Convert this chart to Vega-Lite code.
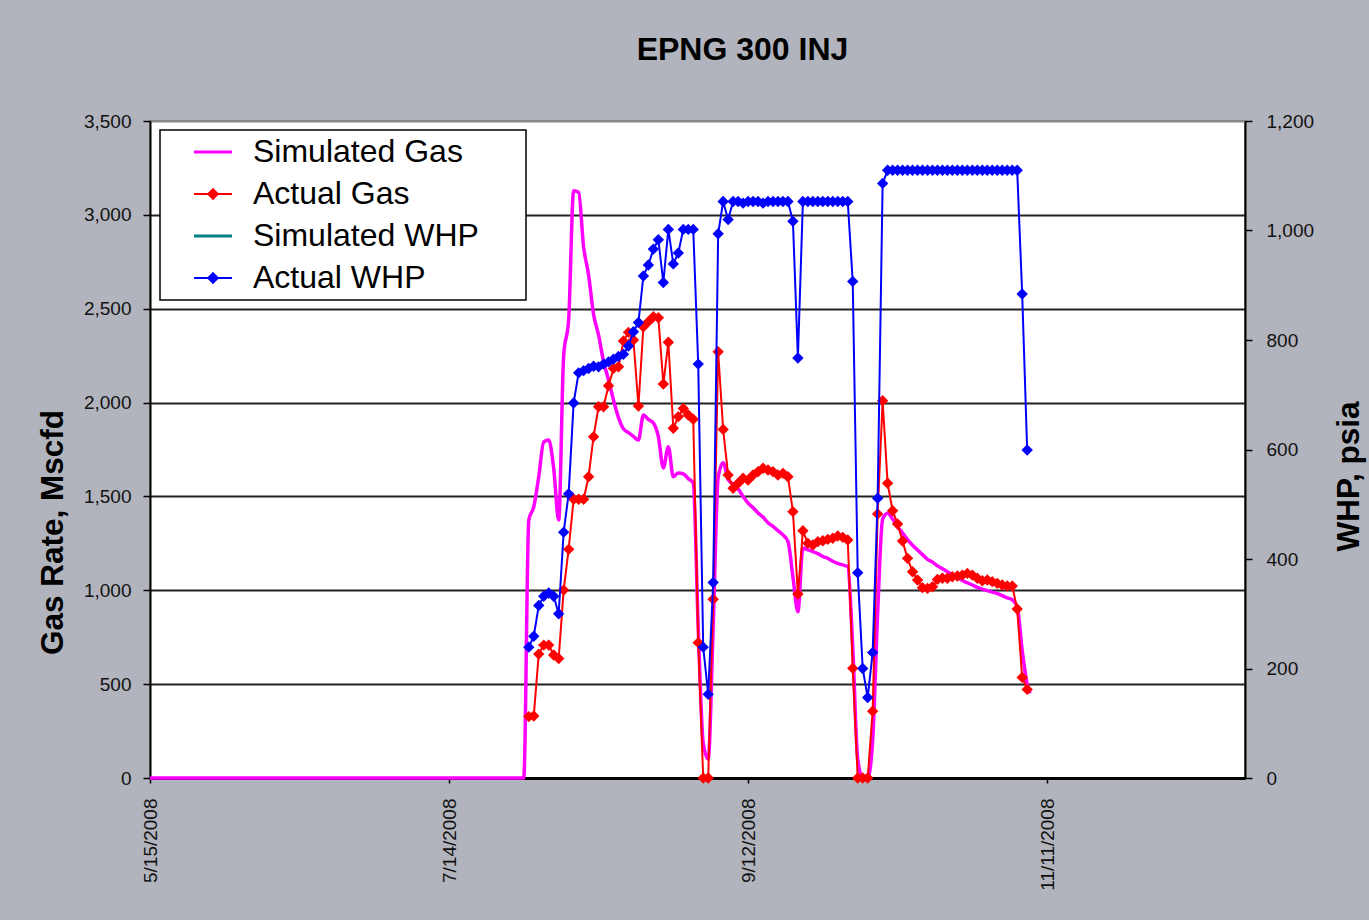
{
"$schema": "https://vega.github.io/schema/vega-lite/v6.json",
"autosize": {"type": "none"},
"padding": {"left": 150, "top": 121, "right": 124, "bottom": 142},
"width": 1095,
"height": 657,
"background": "#b1b4bd",
"title": {"text": "EPNG 300 INJ", "font": "Liberation Sans", "fontSize": 32, "fontWeight": "bold", "color": "#000000", "anchor": "middle", "dx": 45, "offset": 20, "baseline": "alphabetic"},
"config": {
  "font": "Liberation Sans",
  "view": {"stroke": "#888888", "strokeWidth": 2, "fill": "#ffffff"}
},
"data": {"values": [
{"date":"2008-05-15T00:00","series":"Simulated Gas","value":0},
{"date":"2008-07-29T00:00","series":"Simulated Gas","value":0},
{"date":"2008-07-30T00:00","series":"Simulated Gas","value":1374},
{"date":"2008-07-31T00:00","series":"Simulated Gas","value":1445},
{"date":"2008-08-01T00:00","series":"Simulated Gas","value":1605},
{"date":"2008-08-02T00:00","series":"Simulated Gas","value":1790},
{"date":"2008-08-03T00:00","series":"Simulated Gas","value":1800},
{"date":"2008-08-04T00:00","series":"Simulated Gas","value":1650},
{"date":"2008-08-05T00:00","series":"Simulated Gas","value":1374},
{"date":"2008-08-06T00:00","series":"Simulated Gas","value":2250},
{"date":"2008-08-07T00:00","series":"Simulated Gas","value":2440},
{"date":"2008-08-08T00:00","series":"Simulated Gas","value":3128},
{"date":"2008-08-09T00:00","series":"Simulated Gas","value":3120},
{"date":"2008-08-10T00:00","series":"Simulated Gas","value":2830},
{"date":"2008-08-11T00:00","series":"Simulated Gas","value":2680},
{"date":"2008-08-12T00:00","series":"Simulated Gas","value":2470},
{"date":"2008-08-13T00:00","series":"Simulated Gas","value":2360},
{"date":"2008-08-14T00:00","series":"Simulated Gas","value":2220},
{"date":"2008-08-15T00:00","series":"Simulated Gas","value":2120},
{"date":"2008-08-16T00:00","series":"Simulated Gas","value":2013},
{"date":"2008-08-17T00:00","series":"Simulated Gas","value":1920},
{"date":"2008-08-18T00:00","series":"Simulated Gas","value":1860},
{"date":"2008-08-19T00:00","series":"Simulated Gas","value":1840},
{"date":"2008-08-20T00:00","series":"Simulated Gas","value":1820},
{"date":"2008-08-21T00:00","series":"Simulated Gas","value":1800},
{"date":"2008-08-22T00:00","series":"Simulated Gas","value":1934},
{"date":"2008-08-23T00:00","series":"Simulated Gas","value":1910},
{"date":"2008-08-24T00:00","series":"Simulated Gas","value":1891},
{"date":"2008-08-25T00:00","series":"Simulated Gas","value":1818},
{"date":"2008-08-26T00:00","series":"Simulated Gas","value":1651},
{"date":"2008-08-27T00:00","series":"Simulated Gas","value":1765},
{"date":"2008-08-28T00:00","series":"Simulated Gas","value":1605},
{"date":"2008-08-29T00:00","series":"Simulated Gas","value":1625},
{"date":"2008-08-30T00:00","series":"Simulated Gas","value":1620},
{"date":"2008-08-31T00:00","series":"Simulated Gas","value":1595},
{"date":"2008-09-01T00:00","series":"Simulated Gas","value":1571},
{"date":"2008-09-02T00:00","series":"Simulated Gas","value":800},
{"date":"2008-09-03T00:00","series":"Simulated Gas","value":186},
{"date":"2008-09-04T00:00","series":"Simulated Gas","value":100},
{"date":"2008-09-05T00:00","series":"Simulated Gas","value":806},
{"date":"2008-09-06T00:00","series":"Simulated Gas","value":1600},
{"date":"2008-09-07T00:00","series":"Simulated Gas","value":1680},
{"date":"2008-09-08T00:00","series":"Simulated Gas","value":1590},
{"date":"2008-09-09T00:00","series":"Simulated Gas","value":1565},
{"date":"2008-09-10T00:00","series":"Simulated Gas","value":1540},
{"date":"2008-09-11T00:00","series":"Simulated Gas","value":1500},
{"date":"2008-09-12T00:00","series":"Simulated Gas","value":1465},
{"date":"2008-09-13T00:00","series":"Simulated Gas","value":1440},
{"date":"2008-09-14T00:00","series":"Simulated Gas","value":1412},
{"date":"2008-09-15T00:00","series":"Simulated Gas","value":1390},
{"date":"2008-09-16T00:00","series":"Simulated Gas","value":1360},
{"date":"2008-09-17T00:00","series":"Simulated Gas","value":1340},
{"date":"2008-09-18T00:00","series":"Simulated Gas","value":1318},
{"date":"2008-09-19T00:00","series":"Simulated Gas","value":1295},
{"date":"2008-09-20T00:00","series":"Simulated Gas","value":1260},
{"date":"2008-09-21T00:00","series":"Simulated Gas","value":1072},
{"date":"2008-09-22T00:00","series":"Simulated Gas","value":886},
{"date":"2008-09-23T00:00","series":"Simulated Gas","value":1225},
{"date":"2008-09-24T00:00","series":"Simulated Gas","value":1215},
{"date":"2008-09-25T00:00","series":"Simulated Gas","value":1206},
{"date":"2008-09-26T00:00","series":"Simulated Gas","value":1195},
{"date":"2008-09-27T00:00","series":"Simulated Gas","value":1180},
{"date":"2008-09-28T00:00","series":"Simulated Gas","value":1170},
{"date":"2008-09-29T00:00","series":"Simulated Gas","value":1155},
{"date":"2008-09-30T00:00","series":"Simulated Gas","value":1143},
{"date":"2008-10-01T00:00","series":"Simulated Gas","value":1135},
{"date":"2008-10-02T00:00","series":"Simulated Gas","value":1126},
{"date":"2008-10-03T00:00","series":"Simulated Gas","value":700},
{"date":"2008-10-04T00:00","series":"Simulated Gas","value":100},
{"date":"2008-10-05T00:00","series":"Simulated Gas","value":0},
{"date":"2008-10-06T00:00","series":"Simulated Gas","value":0},
{"date":"2008-10-07T00:00","series":"Simulated Gas","value":200},
{"date":"2008-10-08T00:00","series":"Simulated Gas","value":880},
{"date":"2008-10-09T00:00","series":"Simulated Gas","value":1380},
{"date":"2008-10-10T00:00","series":"Simulated Gas","value":1411},
{"date":"2008-10-11T00:00","series":"Simulated Gas","value":1380},
{"date":"2008-10-12T00:00","series":"Simulated Gas","value":1339},
{"date":"2008-10-13T00:00","series":"Simulated Gas","value":1305},
{"date":"2008-10-14T00:00","series":"Simulated Gas","value":1270},
{"date":"2008-10-15T00:00","series":"Simulated Gas","value":1240},
{"date":"2008-10-16T00:00","series":"Simulated Gas","value":1215},
{"date":"2008-10-17T00:00","series":"Simulated Gas","value":1190},
{"date":"2008-10-18T00:00","series":"Simulated Gas","value":1165},
{"date":"2008-10-19T00:00","series":"Simulated Gas","value":1150},
{"date":"2008-10-20T00:00","series":"Simulated Gas","value":1130},
{"date":"2008-10-21T00:00","series":"Simulated Gas","value":1115},
{"date":"2008-10-22T00:00","series":"Simulated Gas","value":1099},
{"date":"2008-10-23T00:00","series":"Simulated Gas","value":1083},
{"date":"2008-10-24T00:00","series":"Simulated Gas","value":1068},
{"date":"2008-10-25T00:00","series":"Simulated Gas","value":1052},
{"date":"2008-10-26T00:00","series":"Simulated Gas","value":1040},
{"date":"2008-10-27T00:00","series":"Simulated Gas","value":1028},
{"date":"2008-10-28T00:00","series":"Simulated Gas","value":1016},
{"date":"2008-10-29T00:00","series":"Simulated Gas","value":1006},
{"date":"2008-10-30T00:00","series":"Simulated Gas","value":998},
{"date":"2008-10-31T00:00","series":"Simulated Gas","value":990},
{"date":"2008-11-01T00:00","series":"Simulated Gas","value":983},
{"date":"2008-11-02T00:00","series":"Simulated Gas","value":972},
{"date":"2008-11-03T00:00","series":"Simulated Gas","value":960},
{"date":"2008-11-04T00:00","series":"Simulated Gas","value":950},
{"date":"2008-11-05T00:00","series":"Simulated Gas","value":912},
{"date":"2008-11-06T00:00","series":"Simulated Gas","value":680},
{"date":"2008-11-07T00:00","series":"Simulated Gas","value":500},
{"date":"2008-11-07T14:00","series":"Simulated Gas","value":451},
{"date":"2008-07-30T00:00","series":"Actual Gas","value":327},
{"date":"2008-07-31T00:00","series":"Actual Gas","value":330},
{"date":"2008-08-01T00:00","series":"Actual Gas","value":660},
{"date":"2008-08-02T00:00","series":"Actual Gas","value":708},
{"date":"2008-08-03T00:00","series":"Actual Gas","value":708},
{"date":"2008-08-04T00:00","series":"Actual Gas","value":655},
{"date":"2008-08-05T00:00","series":"Actual Gas","value":637},
{"date":"2008-08-06T00:00","series":"Actual Gas","value":1001},
{"date":"2008-08-07T00:00","series":"Actual Gas","value":1218},
{"date":"2008-08-08T00:00","series":"Actual Gas","value":1485},
{"date":"2008-08-09T00:00","series":"Actual Gas","value":1485},
{"date":"2008-08-10T00:00","series":"Actual Gas","value":1485},
{"date":"2008-08-11T00:00","series":"Actual Gas","value":1605},
{"date":"2008-08-12T00:00","series":"Actual Gas","value":1818},
{"date":"2008-08-13T00:00","series":"Actual Gas","value":1978},
{"date":"2008-08-14T00:00","series":"Actual Gas","value":1978},
{"date":"2008-08-15T00:00","series":"Actual Gas","value":2090},
{"date":"2008-08-16T00:00","series":"Actual Gas","value":2182},
{"date":"2008-08-17T00:00","series":"Actual Gas","value":2191},
{"date":"2008-08-18T00:00","series":"Actual Gas","value":2328},
{"date":"2008-08-19T00:00","series":"Actual Gas","value":2374},
{"date":"2008-08-20T00:00","series":"Actual Gas","value":2333},
{"date":"2008-08-21T00:00","series":"Actual Gas","value":1982},
{"date":"2008-08-22T00:00","series":"Actual Gas","value":2404},
{"date":"2008-08-23T00:00","series":"Actual Gas","value":2431},
{"date":"2008-08-24T00:00","series":"Actual Gas","value":2457},
{"date":"2008-08-25T00:00","series":"Actual Gas","value":2452},
{"date":"2008-08-26T00:00","series":"Actual Gas","value":2099},
{"date":"2008-08-27T00:00","series":"Actual Gas","value":2321},
{"date":"2008-08-28T00:00","series":"Actual Gas","value":1863},
{"date":"2008-08-29T00:00","series":"Actual Gas","value":1925},
{"date":"2008-08-30T00:00","series":"Actual Gas","value":1969},
{"date":"2008-08-31T00:00","series":"Actual Gas","value":1934},
{"date":"2008-09-01T00:00","series":"Actual Gas","value":1911},
{"date":"2008-09-02T00:00","series":"Actual Gas","value":721},
{"date":"2008-09-03T00:00","series":"Actual Gas","value":0},
{"date":"2008-09-04T00:00","series":"Actual Gas","value":0},
{"date":"2008-09-05T00:00","series":"Actual Gas","value":952},
{"date":"2008-09-06T00:00","series":"Actual Gas","value":2271},
{"date":"2008-09-07T00:00","series":"Actual Gas","value":1857},
{"date":"2008-09-08T00:00","series":"Actual Gas","value":1614},
{"date":"2008-09-09T00:00","series":"Actual Gas","value":1543},
{"date":"2008-09-10T00:00","series":"Actual Gas","value":1570},
{"date":"2008-09-11T00:00","series":"Actual Gas","value":1597},
{"date":"2008-09-12T00:00","series":"Actual Gas","value":1587},
{"date":"2008-09-13T00:00","series":"Actual Gas","value":1614},
{"date":"2008-09-14T00:00","series":"Actual Gas","value":1632},
{"date":"2008-09-15T00:00","series":"Actual Gas","value":1650},
{"date":"2008-09-16T00:00","series":"Actual Gas","value":1641},
{"date":"2008-09-17T00:00","series":"Actual Gas","value":1632},
{"date":"2008-09-18T00:00","series":"Actual Gas","value":1614},
{"date":"2008-09-19T00:00","series":"Actual Gas","value":1623},
{"date":"2008-09-20T00:00","series":"Actual Gas","value":1605},
{"date":"2008-09-21T00:00","series":"Actual Gas","value":1419},
{"date":"2008-09-22T00:00","series":"Actual Gas","value":980},
{"date":"2008-09-23T00:00","series":"Actual Gas","value":1317},
{"date":"2008-09-24T00:00","series":"Actual Gas","value":1250},
{"date":"2008-09-25T00:00","series":"Actual Gas","value":1241},
{"date":"2008-09-26T00:00","series":"Actual Gas","value":1259},
{"date":"2008-09-27T00:00","series":"Actual Gas","value":1264},
{"date":"2008-09-28T00:00","series":"Actual Gas","value":1271},
{"date":"2008-09-29T00:00","series":"Actual Gas","value":1277},
{"date":"2008-09-30T00:00","series":"Actual Gas","value":1289},
{"date":"2008-10-01T00:00","series":"Actual Gas","value":1282},
{"date":"2008-10-02T00:00","series":"Actual Gas","value":1268},
{"date":"2008-10-03T00:00","series":"Actual Gas","value":584},
{"date":"2008-10-04T00:00","series":"Actual Gas","value":0},
{"date":"2008-10-05T00:00","series":"Actual Gas","value":0},
{"date":"2008-10-06T00:00","series":"Actual Gas","value":0},
{"date":"2008-10-07T00:00","series":"Actual Gas","value":356},
{"date":"2008-10-08T00:00","series":"Actual Gas","value":1406},
{"date":"2008-10-09T00:00","series":"Actual Gas","value":2010},
{"date":"2008-10-10T00:00","series":"Actual Gas","value":1570},
{"date":"2008-10-11T00:00","series":"Actual Gas","value":1424},
{"date":"2008-10-12T00:00","series":"Actual Gas","value":1353},
{"date":"2008-10-13T00:00","series":"Actual Gas","value":1262},
{"date":"2008-10-14T00:00","series":"Actual Gas","value":1170},
{"date":"2008-10-15T00:00","series":"Actual Gas","value":1099},
{"date":"2008-10-16T00:00","series":"Actual Gas","value":1055},
{"date":"2008-10-17T00:00","series":"Actual Gas","value":1014},
{"date":"2008-10-18T00:00","series":"Actual Gas","value":1010},
{"date":"2008-10-19T00:00","series":"Actual Gas","value":1019},
{"date":"2008-10-20T00:00","series":"Actual Gas","value":1058},
{"date":"2008-10-21T00:00","series":"Actual Gas","value":1064},
{"date":"2008-10-22T00:00","series":"Actual Gas","value":1064},
{"date":"2008-10-23T00:00","series":"Actual Gas","value":1072},
{"date":"2008-10-24T00:00","series":"Actual Gas","value":1076},
{"date":"2008-10-25T00:00","series":"Actual Gas","value":1081},
{"date":"2008-10-26T00:00","series":"Actual Gas","value":1090},
{"date":"2008-10-27T00:00","series":"Actual Gas","value":1081},
{"date":"2008-10-28T00:00","series":"Actual Gas","value":1064},
{"date":"2008-10-29T00:00","series":"Actual Gas","value":1051},
{"date":"2008-10-30T00:00","series":"Actual Gas","value":1055},
{"date":"2008-10-31T00:00","series":"Actual Gas","value":1046},
{"date":"2008-11-01T00:00","series":"Actual Gas","value":1037},
{"date":"2008-11-02T00:00","series":"Actual Gas","value":1028},
{"date":"2008-11-03T00:00","series":"Actual Gas","value":1023},
{"date":"2008-11-04T00:00","series":"Actual Gas","value":1023},
{"date":"2008-11-05T00:00","series":"Actual Gas","value":900},
{"date":"2008-11-06T00:00","series":"Actual Gas","value":536},
{"date":"2008-11-07T00:00","series":"Actual Gas","value":472},
{"date":"2008-07-30T00:00","series":"Actual WHP","value":239},
{"date":"2008-07-31T00:00","series":"Actual WHP","value":259},
{"date":"2008-08-01T00:00","series":"Actual WHP","value":315},
{"date":"2008-08-02T00:00","series":"Actual WHP","value":332},
{"date":"2008-08-03T00:00","series":"Actual WHP","value":338},
{"date":"2008-08-04T00:00","series":"Actual WHP","value":332},
{"date":"2008-08-05T00:00","series":"Actual WHP","value":300},
{"date":"2008-08-06T00:00","series":"Actual WHP","value":449},
{"date":"2008-08-07T00:00","series":"Actual WHP","value":519},
{"date":"2008-08-08T00:00","series":"Actual WHP","value":685},
{"date":"2008-08-09T00:00","series":"Actual WHP","value":740},
{"date":"2008-08-10T00:00","series":"Actual WHP","value":744},
{"date":"2008-08-11T00:00","series":"Actual WHP","value":748},
{"date":"2008-08-12T00:00","series":"Actual WHP","value":752},
{"date":"2008-08-13T00:00","series":"Actual WHP","value":751},
{"date":"2008-08-14T00:00","series":"Actual WHP","value":756},
{"date":"2008-08-15T00:00","series":"Actual WHP","value":760},
{"date":"2008-08-16T00:00","series":"Actual WHP","value":765},
{"date":"2008-08-17T00:00","series":"Actual WHP","value":770},
{"date":"2008-08-18T00:00","series":"Actual WHP","value":774},
{"date":"2008-08-19T00:00","series":"Actual WHP","value":789},
{"date":"2008-08-20T00:00","series":"Actual WHP","value":815},
{"date":"2008-08-21T00:00","series":"Actual WHP","value":832},
{"date":"2008-08-22T00:00","series":"Actual WHP","value":917},
{"date":"2008-08-23T00:00","series":"Actual WHP","value":937},
{"date":"2008-08-24T00:00","series":"Actual WHP","value":966},
{"date":"2008-08-25T00:00","series":"Actual WHP","value":983},
{"date":"2008-08-26T00:00","series":"Actual WHP","value":905},
{"date":"2008-08-27T00:00","series":"Actual WHP","value":1002},
{"date":"2008-08-28T00:00","series":"Actual WHP","value":939},
{"date":"2008-08-29T00:00","series":"Actual WHP","value":959},
{"date":"2008-08-30T00:00","series":"Actual WHP","value":1002},
{"date":"2008-08-31T00:00","series":"Actual WHP","value":1002},
{"date":"2008-09-01T00:00","series":"Actual WHP","value":1002},
{"date":"2008-09-02T00:00","series":"Actual WHP","value":756},
{"date":"2008-09-03T00:00","series":"Actual WHP","value":239},
{"date":"2008-09-04T00:00","series":"Actual WHP","value":153},
{"date":"2008-09-05T00:00","series":"Actual WHP","value":357},
{"date":"2008-09-06T00:00","series":"Actual WHP","value":994},
{"date":"2008-09-07T00:00","series":"Actual WHP","value":1053},
{"date":"2008-09-08T00:00","series":"Actual WHP","value":1020},
{"date":"2008-09-09T00:00","series":"Actual WHP","value":1053},
{"date":"2008-09-10T00:00","series":"Actual WHP","value":1053},
{"date":"2008-09-11T00:00","series":"Actual WHP","value":1050},
{"date":"2008-09-12T00:00","series":"Actual WHP","value":1053},
{"date":"2008-09-13T00:00","series":"Actual WHP","value":1053},
{"date":"2008-09-14T00:00","series":"Actual WHP","value":1053},
{"date":"2008-09-15T00:00","series":"Actual WHP","value":1050},
{"date":"2008-09-16T00:00","series":"Actual WHP","value":1053},
{"date":"2008-09-17T00:00","series":"Actual WHP","value":1053},
{"date":"2008-09-18T00:00","series":"Actual WHP","value":1053},
{"date":"2008-09-19T00:00","series":"Actual WHP","value":1053},
{"date":"2008-09-20T00:00","series":"Actual WHP","value":1053},
{"date":"2008-09-21T00:00","series":"Actual WHP","value":1017},
{"date":"2008-09-22T00:00","series":"Actual WHP","value":767},
{"date":"2008-09-23T00:00","series":"Actual WHP","value":1053},
{"date":"2008-09-24T00:00","series":"Actual WHP","value":1053},
{"date":"2008-09-25T00:00","series":"Actual WHP","value":1053},
{"date":"2008-09-26T00:00","series":"Actual WHP","value":1053},
{"date":"2008-09-27T00:00","series":"Actual WHP","value":1053},
{"date":"2008-09-28T00:00","series":"Actual WHP","value":1053},
{"date":"2008-09-29T00:00","series":"Actual WHP","value":1053},
{"date":"2008-09-30T00:00","series":"Actual WHP","value":1053},
{"date":"2008-10-01T00:00","series":"Actual WHP","value":1053},
{"date":"2008-10-02T00:00","series":"Actual WHP","value":1053},
{"date":"2008-10-03T00:00","series":"Actual WHP","value":907},
{"date":"2008-10-04T00:00","series":"Actual WHP","value":375},
{"date":"2008-10-05T00:00","series":"Actual WHP","value":200},
{"date":"2008-10-06T00:00","series":"Actual WHP","value":147},
{"date":"2008-10-07T00:00","series":"Actual WHP","value":229},
{"date":"2008-10-08T00:00","series":"Actual WHP","value":511},
{"date":"2008-10-09T00:00","series":"Actual WHP","value":1086},
{"date":"2008-10-10T00:00","series":"Actual WHP","value":1110},
{"date":"2008-10-11T00:00","series":"Actual WHP","value":1110},
{"date":"2008-10-12T00:00","series":"Actual WHP","value":1110},
{"date":"2008-10-13T00:00","series":"Actual WHP","value":1110},
{"date":"2008-10-14T00:00","series":"Actual WHP","value":1110},
{"date":"2008-10-15T00:00","series":"Actual WHP","value":1110},
{"date":"2008-10-16T00:00","series":"Actual WHP","value":1110},
{"date":"2008-10-17T00:00","series":"Actual WHP","value":1110},
{"date":"2008-10-18T00:00","series":"Actual WHP","value":1110},
{"date":"2008-10-19T00:00","series":"Actual WHP","value":1110},
{"date":"2008-10-20T00:00","series":"Actual WHP","value":1110},
{"date":"2008-10-21T00:00","series":"Actual WHP","value":1110},
{"date":"2008-10-22T00:00","series":"Actual WHP","value":1110},
{"date":"2008-10-23T00:00","series":"Actual WHP","value":1110},
{"date":"2008-10-24T00:00","series":"Actual WHP","value":1110},
{"date":"2008-10-25T00:00","series":"Actual WHP","value":1110},
{"date":"2008-10-26T00:00","series":"Actual WHP","value":1110},
{"date":"2008-10-27T00:00","series":"Actual WHP","value":1110},
{"date":"2008-10-28T00:00","series":"Actual WHP","value":1110},
{"date":"2008-10-29T00:00","series":"Actual WHP","value":1110},
{"date":"2008-10-30T00:00","series":"Actual WHP","value":1110},
{"date":"2008-10-31T00:00","series":"Actual WHP","value":1110},
{"date":"2008-11-01T00:00","series":"Actual WHP","value":1110},
{"date":"2008-11-02T00:00","series":"Actual WHP","value":1110},
{"date":"2008-11-03T00:00","series":"Actual WHP","value":1110},
{"date":"2008-11-04T00:00","series":"Actual WHP","value":1110},
{"date":"2008-11-05T00:00","series":"Actual WHP","value":1110},
{"date":"2008-11-06T00:00","series":"Actual WHP","value":884},
{"date":"2008-11-07T00:00","series":"Actual WHP","value":599}
]},
"encoding": {
  "x": {"field": "date", "type": "temporal",
    "scale": {"domain": [{"year": 2008, "month": 5, "date": 15}, {"year": 2008, "month": 12, "date": 20, "hours": 17}], "nice": false},
    "axis": {"title": null, "values": [{"year": 2008, "month": 5, "date": 15}, {"year": 2008, "month": 7, "date": 14}, {"year": 2008, "month": 9, "date": 12}, {"year": 2008, "month": 11, "date": 11}],
      "format": "%-m/%-d/%Y", "labelAngle": -90, "labelFont": "Liberation Sans", "labelFontSize": 19, "labelColor": "#111111", "labelPadding": 15, "labelOverlap": false,
      "tickSize": 5, "tickColor": "#000000", "tickWidth": 1.5, "domainColor": "#000000", "domainWidth": 3, "grid": false}},
  "color": {"field": "series", "type": "nominal",
    "scale": {"domain": ["Simulated Gas", "Actual Gas", "Simulated WHP", "Actual WHP"], "range": ["#ff00ff", "#ff0000", "#008080", "#0000ff"]},
    "legend": {"orient": "none", "legendX": 10, "legendY": 9,
      "title": ".", "titleOrient": "right", "titleOpacity": 0, "titleFontSize": 2, "titlePadding": 40,
      "fillColor": "#ffffff", "strokeColor": "#000000", "padding": 6,
      "labelFont": "Liberation Sans", "labelFontSize": 32, "labelColor": "#000000", "labelLimit": 600, "labelOffset": 24, "labelBaseline": "middle",
      "symbolSize": 1444, "symbolOffset": 31, "rowPadding": 10,
      "encode": {
        "legend": {"update": {"strokeWidth": {"value": 1.5}}},
        "symbols": {"update": {
        "shape": {"signal": "(datum.value === 'Actual Gas' || datum.value === 'Actual WHP') ? 'M-1,0H1M0,-0.25L0.25,0L0,0.25L-0.25,0Z' : 'M-1,0H1'"},
        "fill": {"scale": "color", "field": "value"},
        "stroke": {"scale": "color", "field": "value"},
        "strokeWidth": {"signal": "(datum.value === 'Simulated Gas' || datum.value === 'Simulated WHP') ? 3 : 2"},
        "size": {"value": 1444},
        "opacity": {"value": 1}
      }}}}}
},
"layer": [
  {
    "encoding": {
      "y": {"field": "value", "type": "quantitative",
        "scale": {"domain": [0, 3500], "nice": false},
        "axis": {"title": "Gas Rate, Mscfd", "titleFont": "Liberation Sans", "titleFontSize": 31.5, "titleFontWeight": "bold", "titleColor": "#000000",
          "titleAngle": -90, "titleAlign": "center", "titleBaseline": "alphabetic", "titleX": -88, "titleY": 411,
          "values": [0, 500, 1000, 1500, 2000, 2500, 3000, 3500], "format": ",.0f",
          "labelFont": "Liberation Sans", "labelFontSize": 19, "labelColor": "#111111", "labelPadding": 12,
          "tickSize": 7, "tickColor": "#000000", "tickWidth": 1.5, "domainColor": "#000000", "domainWidth": 2,
          "grid": true, "gridColor": {"condition": {"test": "datum.value === 3500", "value": "#888888"}, "value": "#222222"}, "gridWidth": 2}}
    },
    "layer": [
      {"transform": [{"filter": "datum.series === 'Simulated Gas'"}],
       "mark": {"type": "line", "strokeWidth": 3.5, "interpolate": "monotone"}},
      {"transform": [{"filter": "datum.series === 'Actual Gas'"}],
       "mark": {"type": "line", "strokeWidth": 2, "point": {"shape": "diamond", "size": 130, "filled": true}}}
    ]
  },
  {
    "transform": [{"filter": "datum.series === 'Actual WHP'"}],
    "mark": {"type": "line", "strokeWidth": 2, "point": {"shape": "diamond", "size": 130, "filled": true}},
    "encoding": {
      "y": {"field": "value", "type": "quantitative",
        "scale": {"domain": [0, 1200], "nice": false},
        "axis": {"orient": "right", "title": "WHP, psia", "titleFont": "Liberation Sans", "titleFontSize": 31.5, "titleFontWeight": "bold", "titleColor": "#000000",
          "titleAngle": -90, "titleAlign": "center", "titleBaseline": "alphabetic", "titleX": 113, "titleY": 355,
          "values": [0, 200, 400, 600, 800, 1000, 1200], "format": ",.0f",
          "labelFont": "Liberation Sans", "labelFontSize": 19, "labelColor": "#111111", "labelPadding": 14,
          "tickSize": 7, "tickColor": "#000000", "tickWidth": 1.5, "domainColor": "#000000", "domainWidth": 2, "grid": false}}
    }
  }
],
"resolve": {"scale": {"y": "independent"}}
}
